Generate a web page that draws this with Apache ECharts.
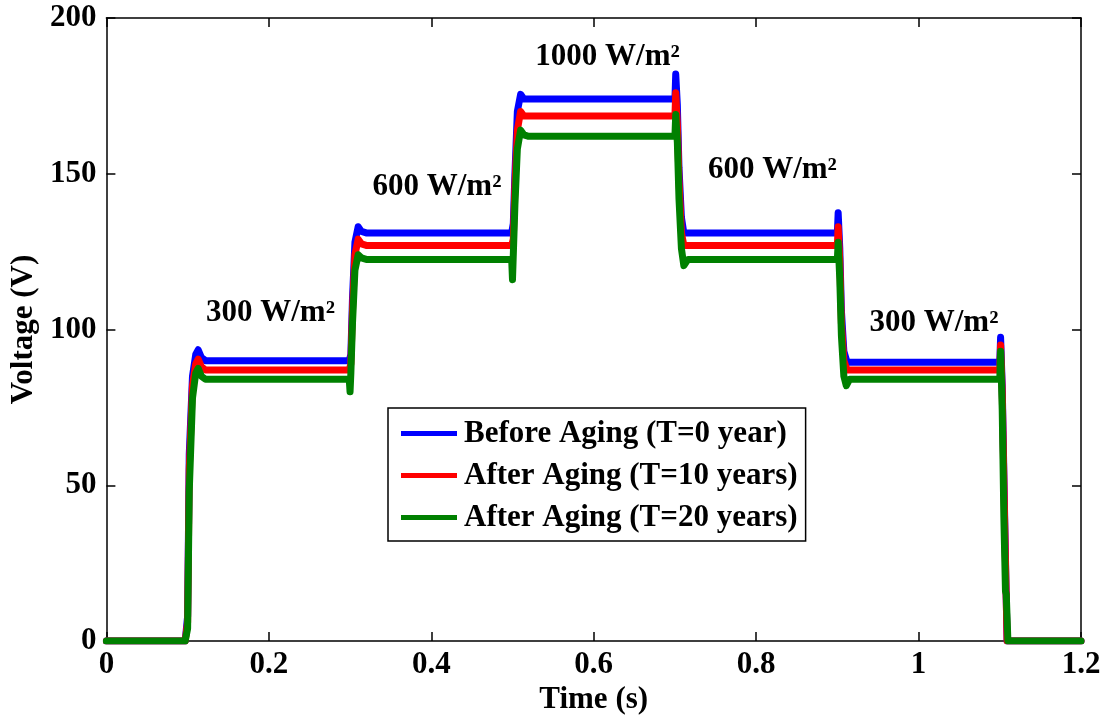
<!DOCTYPE html>
<html>
<head>
<meta charset="utf-8">
<script src="https://cdn.jsdelivr.net/npm/echarts@6/dist/echarts.min.js"></script>
<style>
  html, body { margin: 0; padding: 0; background: #fff; }
  #chart { width: 1109px; height: 722px; }
</style>
</head>
<body>
<div id="chart"></div>
<script>
// PV array output voltage under stepped irradiance, three ageing states
const seriesNames = ['Before Aging (T=0 year)', 'After Aging (T=10 years)', 'After Aging (T=20 years)'];
const seriesColors = ['#0000ff', '#ff0000', '#008000'];

// [time (s), voltage (V)]
const voltageT0 = [
  [0, 0], [0.097, 0], [0.100, 8], [0.102, 60], [0.106, 85], [0.110, 92], [0.113, 93.5], [0.117, 91], [0.122, 90],
  [0.299, 90], [0.301, 92], [0.303, 110], [0.306, 128], [0.310, 133], [0.314, 131.5], [0.320, 131],
  [0.499, 131], [0.501, 134], [0.503, 150], [0.506, 170], [0.510, 175.5], [0.514, 174], [0.520, 174],
  [0.700, 174], [0.701, 182], [0.703, 172], [0.705, 152], [0.708, 136], [0.711, 131], [0.716, 131],
  [0.900, 131], [0.901, 137.5], [0.903, 126], [0.905, 106], [0.908, 93], [0.912, 89.5],
  [1.100, 89.5], [1.101, 97.5], [1.103, 82], [1.106, 40], [1.109, 0], [1.2, 0]
];
const voltageT10 = [
  [0, 0], [0.097, 0], [0.100, 6], [0.102, 55], [0.106, 82], [0.110, 89], [0.113, 90.5], [0.117, 88], [0.122, 87],
  [0.299, 87], [0.301, 89], [0.303, 106], [0.306, 124], [0.310, 129], [0.314, 127.5], [0.320, 127],
  [0.499, 127], [0.501, 129], [0.503, 146], [0.506, 164], [0.510, 170], [0.514, 168.5], [0.520, 168.5],
  [0.700, 168.5], [0.701, 176], [0.703, 166], [0.705, 148], [0.708, 131], [0.711, 127], [0.716, 127],
  [0.900, 127], [0.901, 133], [0.903, 122], [0.905, 102], [0.908, 90], [0.912, 87],
  [1.100, 87], [1.101, 95], [1.103, 80], [1.106, 38], [1.109, 0], [1.2, 0]
];
const voltageT20 = [
  [0, 0], [0.097, 0], [0.100, 4], [0.102, 48], [0.106, 78], [0.110, 86], [0.113, 87.5], [0.117, 85], [0.122, 84],
  [0.299, 84], [0.300, 80], [0.301, 86], [0.303, 102], [0.306, 119], [0.310, 124], [0.314, 123], [0.320, 122.5],
  [0.499, 122.5], [0.500, 116], [0.501, 124], [0.503, 140], [0.506, 158], [0.510, 164], [0.514, 162.5], [0.520, 162],
  [0.700, 162], [0.701, 169], [0.703, 160], [0.705, 142], [0.708, 126], [0.711, 120.5], [0.716, 122.5],
  [0.900, 122.5], [0.901, 128], [0.903, 116], [0.905, 98], [0.908, 85], [0.911, 82], [0.915, 84],
  [1.100, 84], [1.101, 93], [1.102, 84], [1.103, 74], [1.105, 40], [1.107, 16], [1.108, 15], [1.110, 0], [1.2, 0]
];

// irradiance step annotations: [time, voltage, text]
const irradianceLabels = [
  [0.202, 105.3, '300 W/m²'],
  [0.407, 145.7, '600 W/m²'],
  [0.617, 187.5, '1000 W/m²'],
  [0.820, 151.2, '600 W/m²'],
  [1.019, 102, '300 W/m²']
];

const xTicks = { min: 0, max: 1.2, interval: 0.2 };
const yTicks = { min: 0, max: 200, interval: 50 };

const FONT = '"Liberation Serif", "Times New Roman", serif';
const FS = 31;
const chart = echarts.init(document.getElementById('chart'));

const baseAxisLine = { show: true, onZero: false, lineStyle: { color: '#000', width: 1.5 } };
const baseTick = { show: true, inside: true, length: 9, lineStyle: { color: '#000', width: 1.5 } };

function fmtX(v) {
  return Math.abs(v) < 1e-9 ? '0' : String(+v.toFixed(1));
}

const lineSeries = [voltageT0, voltageT10, voltageT20].map((d, i) => ({
  name: seriesNames[i],
  type: 'line',
  data: d,
  showSymbol: false,
  symbol: 'none',
  lineStyle: { color: seriesColors[i], width: 7, join: 'round', cap: 'round' },
  itemStyle: { color: seriesColors[i] },
  z: 2 + i,
  animation: false
}));

chart.setOption({
  animation: false,
  backgroundColor: '#fff',
  grid: { left: 106, top: 18, right: 28, bottom: 81, containLabel: false },
  legend: {
    data: seriesNames,
    orient: 'vertical',
    left: 388,
    top: 408,
    icon: 'rect',
    itemWidth: 56,
    itemHeight: 5,
    itemGap: 11,
    padding: [10, 8, 8, 13],
    borderColor: '#000',
    borderWidth: 1.5,
    backgroundColor: '#fff',
    textStyle: { fontFamily: FONT, fontWeight: 'bold', fontSize: FS, color: '#000', padding: [0, 0, 0, 2] }
  },
  xAxis: [
    {
      type: 'value', position: 'bottom', ...xTicks,
      name: 'Time (s)', nameLocation: 'middle', nameGap: 43,
      nameTextStyle: { fontFamily: FONT, fontWeight: 'bold', fontSize: FS, color: '#000' },
      axisLine: baseAxisLine, axisTick: baseTick, splitLine: { show: false },
      axisLabel: { fontFamily: FONT, fontWeight: 'bold', fontSize: FS, color: '#000', margin: 8, formatter: fmtX }
    },
    {
      type: 'value', position: 'top', ...xTicks,
      axisLine: baseAxisLine, axisTick: baseTick, splitLine: { show: false },
      axisLabel: { show: false }
    }
  ],
  yAxis: [
    {
      type: 'value', position: 'left', ...yTicks,
      name: 'Voltage (V)', nameLocation: 'middle', nameGap: 60,
      nameTextStyle: { fontFamily: FONT, fontWeight: 'bold', fontSize: FS, color: '#000' },
      axisLine: baseAxisLine, axisTick: baseTick, splitLine: { show: false },
      axisLabel: { fontFamily: FONT, fontWeight: 'bold', fontSize: FS, color: '#000', margin: 10 }
    },
    {
      type: 'value', position: 'right', ...yTicks,
      axisLine: baseAxisLine, axisTick: baseTick, splitLine: { show: false },
      axisLabel: { show: false }
    }
  ],
  series: [
    ...lineSeries,
    {
      name: 'irradiance',
      type: 'scatter',
      symbolSize: 0,
      itemStyle: { opacity: 1, color: '#000' },
      data: irradianceLabels.map(r => ({ value: [r[0], r[1]], text: r[2] })),
      label: {
        show: true,
        position: 'inside',
        opacity: 1,
        formatter: p => p.data.text,
        fontFamily: FONT, fontWeight: 'bold', fontSize: FS, color: '#000'
      },
      z: 10,
      silent: true
    }
  ]
});
</script>
</body>
</html>
